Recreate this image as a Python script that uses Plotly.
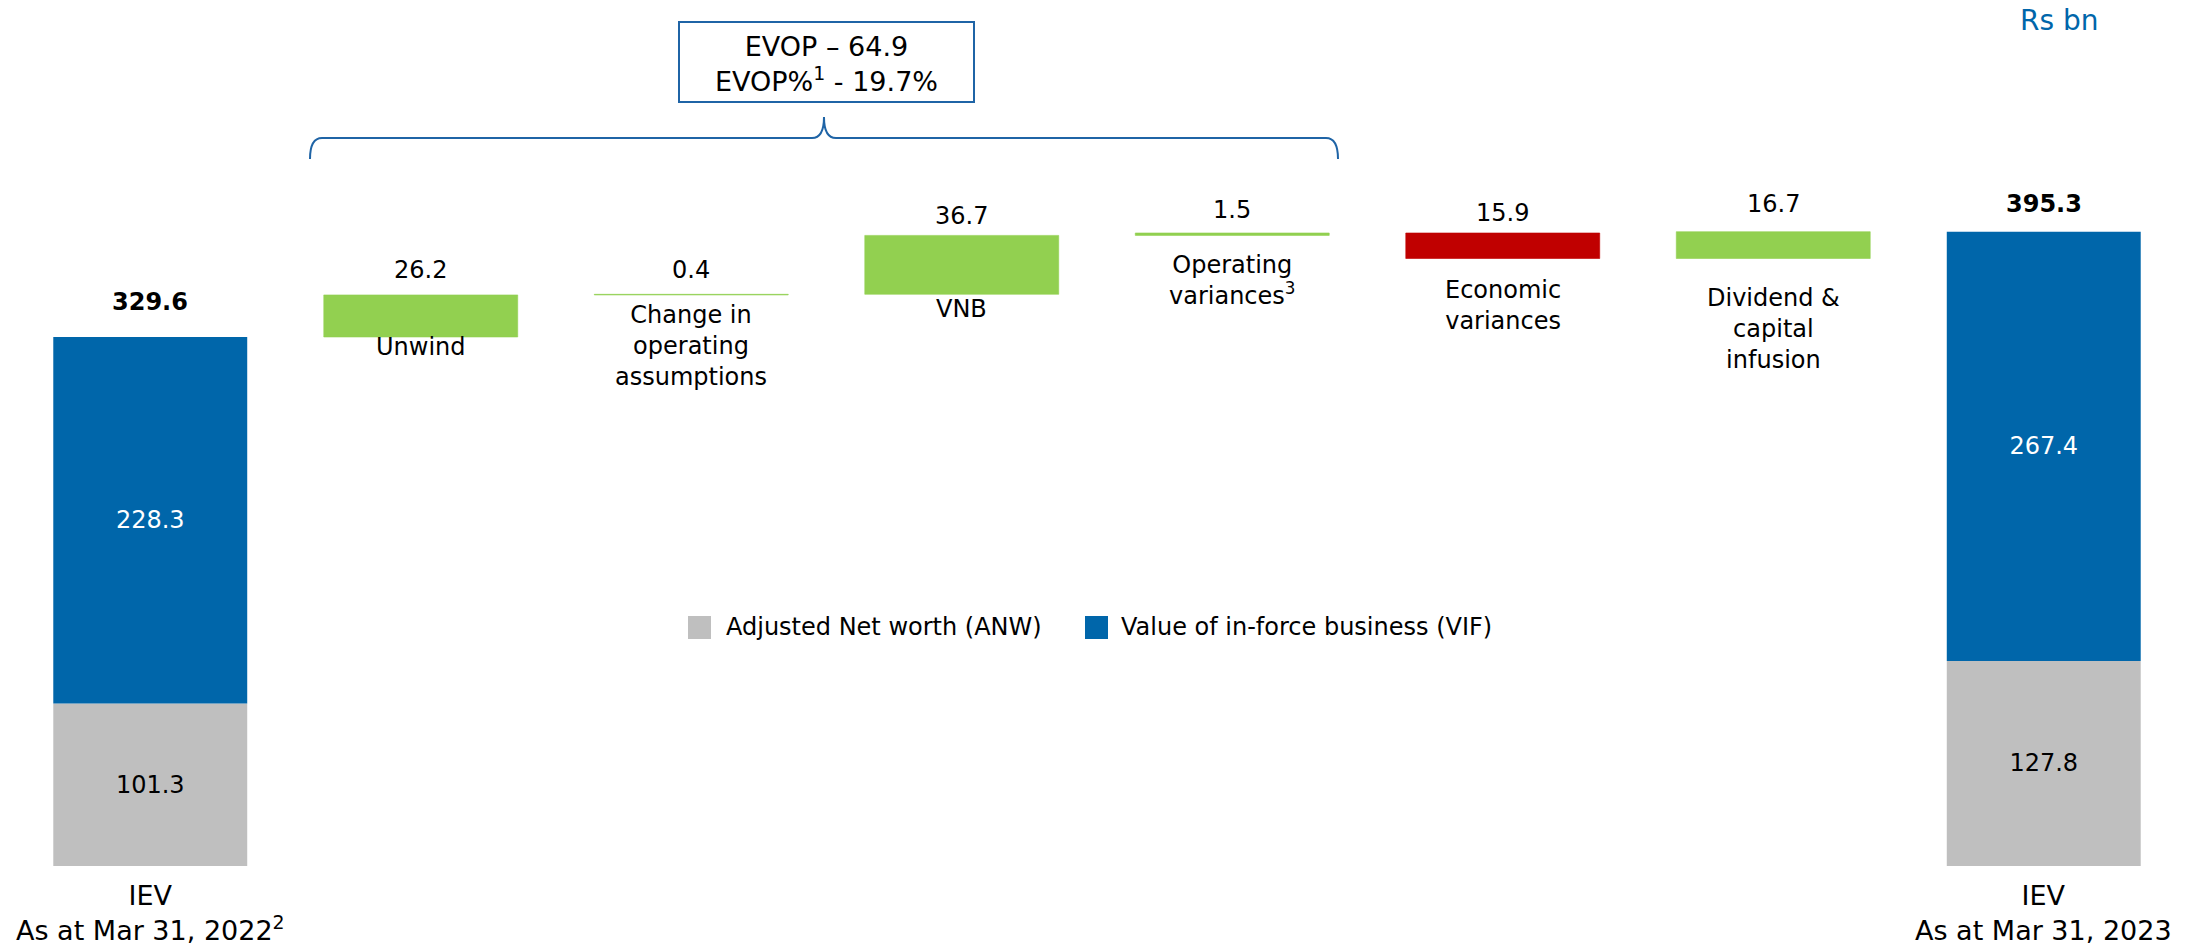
import plotly.graph_objects as go

# Rs bn, embedded value walk FY22 -> FY23
categories = ["IEV Mar 31, 2022", "Unwind", "Change in operating assumptions", "VNB",
              "Operating variances", "Economic variances", "Dividend & capital infusion",
              "IEV Mar 31, 2023"]
cat_labels = ["IEV<br>As at Mar 31, 2022<sup>2</sup>", "Unwind", "Change in<br>operating<br>assumptions",
              "VNB", "Operating<br>variances<sup>3</sup>", "Economic<br>variances",
              "Dividend &<br>capital<br>infusion", "IEV<br>As at Mar 31, 2023"]
anw = [101.3, 127.8]
vif = [228.3, 267.4]
totals = [329.6, 395.3]
steps = [26.2, 0.4, 36.7, 1.5, -15.9, 16.7]
step_text = ["26.2", "0.4", "36.7", "1.5", "15.9", "16.7"]
evop_text = ["EVOP \u2013 64.9", "EVOP%<sup>1</sup> - 19.7%"]

BLUE = "#0066AA"
GREEN = "#92D050"
RED = "#C00000"
GREY = "#BFBFBF"
LINE_BLUE = "#1F64A6"
FONT = "Verdana, DejaVu Sans, sans-serif"

W, H = 2200, 949
L, R, T, B = 15, 21, 0, 83
PX_PER_UNIT = 1.605
y_top = (H - T - B) / PX_PER_UNIT


def fx(px):
    return (px - L) / (W - L - R)


def fy(py):
    return (H - B - py) / (H - T - B)


xs = list(range(len(categories)))
end_x = [xs[0], xs[-1]]
step_x = xs[1:-1]

bases = []
run = totals[0]
for s in steps:
    bases.append(run)
    run += s

fig = go.Figure()
fig.add_trace(go.Bar(x=end_x, y=anw, base=[0, 0], width=0.717, marker_color=GREY,
                     marker_line_width=0, text=[f"{v:.1f}" for v in anw],
                     textposition="inside", insidetextanchor="middle", textangle=0,
                     textfont=dict(size=24, color="black", family=FONT),
                     name="Adjusted Net worth (ANW)", showlegend=False))
fig.add_trace(go.Bar(x=end_x, y=vif, base=anw, width=0.717, marker_color=BLUE,
                     marker_line_width=0, text=[f"{v:.1f}" for v in vif],
                     textposition="inside", insidetextanchor="middle", textangle=0,
                     textfont=dict(size=24, color="white", family=FONT),
                     name="Value of in-force business (VIF)", showlegend=False))
step_colors = [GREEN if s >= 0 else RED for s in steps]
fig.add_trace(go.Bar(x=step_x, y=steps, base=bases, width=0.717, marker_color=step_colors,
                     marker_line=dict(color=step_colors, width=0.6), textposition="none",
                     showlegend=False))

ann = []
# value labels above steps, category names below
above_shift = [25, 24, 19, 23, 20, 28]
below_shift = [10, 20, 15, 30, 31, 39]
for i, (x, b, s) in enumerate(zip(step_x, bases, steps)):
    top = max(b, b + s)
    bot = min(b, b + s)
    ann.append(dict(x=x, y=top, text=step_text[i], showarrow=False, yanchor="middle",
                    yshift=above_shift[i], font=dict(size=24)))
    ann.append(dict(x=x, y=bot, text=cat_labels[x], showarrow=False, yanchor="top",
                    yshift=-(below_shift[i] - 16), font=dict(size=24)))

# totals above end bars
for x, t, sh in zip(end_x, totals, [35, 28]):
    ann.append(dict(x=x, y=t, text=f"<b>{t:.1f}</b>", showarrow=False, yanchor="middle",
                    yshift=sh, font=dict(size=24)))
    ann.append(dict(x=x, y=0, text=cat_labels[x], showarrow=False, yanchor="top",
                    yshift=-12, font=dict(size=27)))

# EVOP box text
ann.append(dict(xref="paper", yref="paper", x=fx(826), y=fy(64), text="<br>".join(evop_text),
                showarrow=False, xanchor="center", yanchor="middle", font=dict(size=27)))
# units
ann.append(dict(xref="paper", yref="paper", x=fx(2059), y=fy(20), text="Rs bn",
                showarrow=False, xanchor="center", yanchor="middle",
                font=dict(size=28, color=BLUE)))
# legend texts
ann.append(dict(xref="paper", yref="paper", x=fx(724), y=fy(627), text="Adjusted Net worth (ANW)",
                showarrow=False, xanchor="left", yanchor="middle", font=dict(size=24)))
ann.append(dict(xref="paper", yref="paper", x=fx(1119), y=fy(627),
                text="Value of in-force business (VIF)",
                showarrow=False, xanchor="left", yanchor="middle", font=dict(size=24)))

shapes = [
    dict(type="rect", xref="paper", yref="paper", x0=fx(688), x1=fx(711), y0=fy(639), y1=fy(616),
         fillcolor=GREY, line_width=0),
    dict(type="rect", xref="paper", yref="paper", x0=fx(1085), x1=fx(1108), y0=fy(639), y1=fy(616),
         fillcolor=BLUE, line_width=0),
    dict(type="rect", xref="paper", yref="paper", x0=fx(679), x1=fx(974), y0=fy(102), y1=fy(22),
         line=dict(color=LINE_BLUE, width=2), fillcolor="white", layer="below"),
]

# curly brace over the operating items
pts = [("M", 310, 159), ("Q", 310, 138, 322, 138), ("L", 812, 138), ("Q", 824, 138, 824, 117),
       ("Q", 824, 138, 836, 138), ("L", 1326, 138), ("Q", 1338, 138, 1338, 159)]
path = ""
for p in pts:
    cmd, vals = p[0], p[1:]
    coords = []
    for j in range(0, len(vals), 2):
        coords.append(f"{fx(vals[j]):.5f},{fy(vals[j + 1]):.5f}")
    path += cmd + " " + " ".join(coords) + " "
shapes.append(dict(type="path", xref="paper", yref="paper", path=path.strip(),
                   line=dict(color=LINE_BLUE, width=2)))

fig.update_layout(
    width=W, height=H,
    margin=dict(l=L, r=R, t=T, b=B),
    barmode="overlay",
    plot_bgcolor="white", paper_bgcolor="white",
    font=dict(family=FONT, size=24, color="black"),
    xaxis=dict(range=[-0.5, len(categories) - 0.5], visible=False),
    yaxis=dict(range=[0, y_top], visible=False),
    annotations=ann, shapes=shapes,
    showlegend=False,
)

fig.write_html("out.html", config={"displayModeBar": False},
               post_script="document.body.style.margin='0';")
